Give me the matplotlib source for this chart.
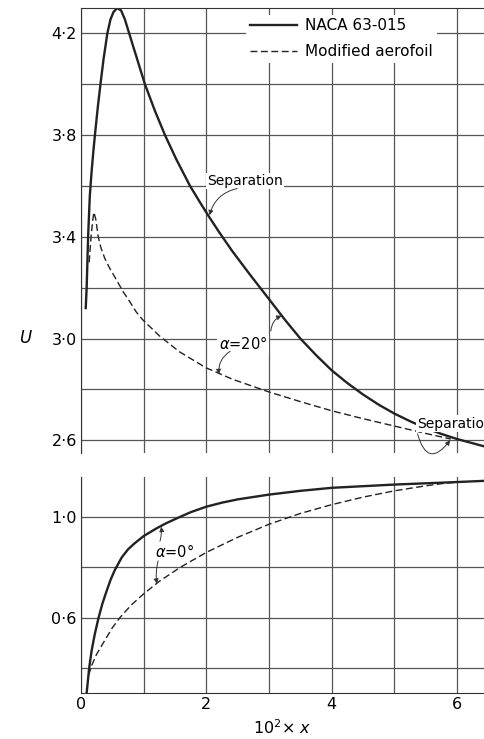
import matplotlib
matplotlib.use('Agg')
import matplotlib.pyplot as plt
from matplotlib.ticker import FixedLocator, FuncFormatter

# general look
matplotlib.rc('font', family='DejaVu Sans', size=11.5)

# ---- data ----
# alpha = 20 deg, NACA 63-015 (solid)
naca20_x = [0.075, 0.09, 0.113, 0.14, 0.17, 0.20, 0.23, 0.27, 0.31, 0.36, 0.42, 0.47,
            0.52, 0.58, 0.64, 0.70, 0.75, 0.85, 1.02, 1.18, 1.34, 1.52, 1.74, 1.9,
            2.04, 2.2, 2.41, 2.7, 3.0, 3.25, 3.5, 3.75, 4.0, 4.25, 4.5, 4.75, 5.0,
            5.25, 5.5, 5.75, 6.0, 6.45]
naca20_u = [3.12, 3.20, 3.40, 3.56, 3.66, 3.745, 3.82, 3.915, 4.00, 4.10, 4.20, 4.255,
            4.285, 4.30, 4.29, 4.255, 4.215, 4.135, 4.00, 3.895, 3.80, 3.705, 3.60, 3.535,
            3.48, 3.42, 3.345, 3.25, 3.155, 3.075, 3.00, 2.935, 2.875, 2.825, 2.78, 2.74,
            2.705, 2.675, 2.648, 2.625, 2.605, 2.575]
# alpha = 20 deg, modified aerofoil (dashed)
mod20_x = [0.13, 0.16, 0.185, 0.205, 0.235, 0.275, 0.32, 0.38, 0.45, 0.567, 0.67,
           0.778, 0.88, 0.98, 1.254, 1.571, 1.995, 2.418, 3.0, 3.5, 4.0, 4.5, 5.0,
           5.5, 5.9]
mod20_u = [3.30, 3.40, 3.46, 3.497, 3.47, 3.40, 3.355, 3.315, 3.28, 3.23, 3.185,
           3.145, 3.105, 3.075, 3.01, 2.948, 2.885, 2.84, 2.79, 2.752, 2.716, 2.685, 2.656,
           2.627, 2.605]
# alpha = 0 deg, NACA 63-015 (solid)
naca0_x = [0.09, 0.11, 0.13, 0.17, 0.22, 0.28, 0.34, 0.40, 0.47, 0.54, 0.65, 0.75,
           0.85, 1.0, 1.2, 1.35, 1.55, 1.75, 2.0, 2.25, 2.5, 3.0, 3.5, 4.0, 5.0, 6.0, 6.45]
naca0_u = [0.30, 0.35, 0.40, 0.47, 0.535, 0.60, 0.655, 0.70, 0.75, 0.79, 0.84, 0.872,
           0.895, 0.925, 0.955, 0.975, 0.998, 1.02, 1.042, 1.058, 1.071, 1.09, 1.105,
           1.117, 1.13, 1.14, 1.145]
# alpha = 0 deg, modified aerofoil (dashed)
mod0_x = [0.12, 0.17, 0.25, 0.38, 0.50, 0.62, 0.80, 1.0, 1.25, 1.58, 2.0, 2.5,
          3.0, 3.5, 4.0, 4.5, 5.0, 5.5, 5.8, 6.1]
mod0_u = [0.37, 0.41, 0.455, 0.51, 0.56, 0.60, 0.65, 0.695, 0.745, 0.80, 0.86, 0.92,
          0.972, 1.015, 1.05, 1.08, 1.105, 1.125, 1.135, 1.142]

x_grid = [0, 1, 2, 3, 4, 5, 6]
x_labels = [0, 2, 4, 6]
upper_labels = [2.6, 3.0, 3.4, 3.8, 4.2]
upper_grid = [2.8, 3.2, 3.6, 4.0]
lower_labels = [0.6, 1.0]
lower_grid = [0.4, 0.8]


def dot_fmt(v, pos):
    # old style decimal point
    return ('%.1f' % v).replace('.', '\u00b7')


grid_kw = dict(color='#555555', lw=0.9)
arrow_kw = dict(arrowstyle='-|>', lw=0.7, color='#333333', mutation_scale=7,
                shrinkA=0, shrinkB=0)
box = dict(facecolor='white', edgecolor='none', pad=1)

fig = plt.figure(figsize=(4.84, 7.39), dpi=100)
ax1 = fig.add_axes([0.1674, 0.3870, 0.8326, 0.6022])
ax2 = fig.add_axes([0.1674, 0.0622, 0.8326, 0.2923])

for ax in (ax1, ax2):
    ax.set_xlim(0, 6.43)
    ax.xaxis.set_major_locator(FixedLocator(x_grid))
    ax.xaxis.set_minor_locator(FixedLocator([]))
    ax.grid(True, which='both', **grid_kw)
    ax.set_axisbelow(True)
    ax.tick_params(which='both', length=0, pad=3, labelsize=11.5)
    ax.yaxis.set_major_formatter(FuncFormatter(dot_fmt))
    ax.spines['right'].set_visible(False)
    ax.spines['left'].set_color('#333333')

# upper panel, alpha = 20 deg
ax1.set_ylim(2.55, 4.30)
ax1.yaxis.set_major_locator(FixedLocator(upper_labels))
ax1.yaxis.set_minor_locator(FixedLocator(upper_grid))
ax1.spines['bottom'].set_visible(False)
ax1.spines['top'].set_color('#333333')
ax1.tick_params(axis='x', labelbottom=False)
ax1.plot(naca20_x, naca20_u, color='#222222', lw=1.7, label='NACA 63-015')
ax1.plot(mod20_x, mod20_u, color='#222222', lw=1.0, dashes=(5, 2.5),
         label='Modified aerofoil')

leg = ax1.legend(loc='upper left', bbox_to_anchor=(0.41, 0.985), borderaxespad=0,
                 borderpad=0.25, handlelength=3.1, handletextpad=0.5,
                 labelspacing=0.7, fontsize=11, frameon=True, fancybox=False)
leg.get_frame().set_facecolor('white')
leg.get_frame().set_edgecolor('none')
leg.get_frame().set_alpha(1)

ax1.text(2.01, 3.62, 'Separation', fontsize=10, ha='left', va='center', bbox=box)
ax1.annotate('', xy=(2.05, 3.485), xytext=(2.49, 3.59),
             arrowprops=dict(connectionstyle='arc3,rad=0.3', **arrow_kw))
ax1.text(2.2, 2.98, r'$\alpha$=20°', fontsize=10.5, ha='left', va='center', bbox=box)
ax1.annotate('', xy=(2.2, 2.86), xytext=(2.38, 2.95),
             arrowprops=dict(connectionstyle='arc3,rad=0.3', **arrow_kw))
ax1.annotate('', xy=(3.2, 3.09), xytext=(3.03, 3.03),
             arrowprops=dict(connectionstyle='arc3,rad=-0.3', **arrow_kw))
ax1.text(5.37, 2.665, 'Separation', fontsize=10, ha='left', va='center', bbox=box,
         clip_on=False)
ax1.annotate('', xy=(5.89, 2.60), xytext=(5.37, 2.625),
             arrowprops=dict(connectionstyle='arc3,rad=1.0', **arrow_kw))

# lower panel, alpha = 0 deg
ax2.set_ylim(0.30, 1.16)
ax2.yaxis.set_major_locator(FixedLocator(lower_labels))
ax2.yaxis.set_minor_locator(FixedLocator(lower_grid))
ax2.spines['top'].set_visible(False)
ax2.spines['bottom'].set_color('#333333')
ax2.set_xticks(x_grid)
ax2.set_xticklabels([str(v) if v in x_labels else '' for v in x_grid])
ax2.plot(naca0_x, naca0_u, color='#222222', lw=1.7)
ax2.plot(mod0_x, mod0_u, color='#222222', lw=1.0, dashes=(5, 2.5))

ax2.text(1.18, 0.865, r'$\alpha$=0°', fontsize=10.5, ha='left', va='center')
ax2.annotate('', xy=(1.28, 0.962), xytext=(1.26, 0.905),
             arrowprops=dict(connectionstyle='arc3,rad=0.1', **arrow_kw))
ax2.annotate('', xy=(1.21, 0.735), xytext=(1.23, 0.826),
             arrowprops=dict(connectionstyle='arc3,rad=0.1', **arrow_kw))

# axis titles
fig.text(25 / 484, 1 - 338 / 739, 'U', style='italic', fontsize=12,
         ha='center', va='center')
fig.text(282 / 484, 1 - 728 / 739, r'10$^2$× $x$', fontsize=11.5,
         ha='center', va='center')

fig.savefig('out.png', dpi=100)
